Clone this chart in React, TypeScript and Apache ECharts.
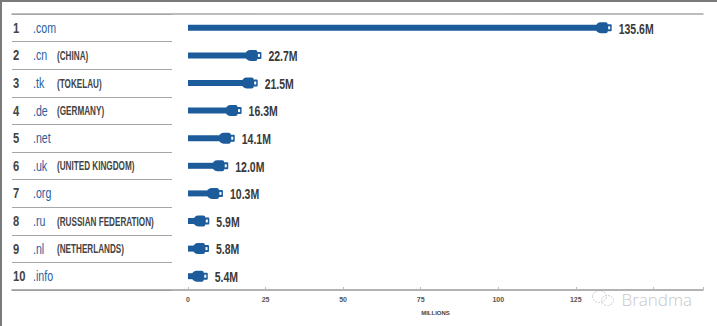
import React, { useEffect, useRef } from "react";
import * as echarts from "echarts";

const ranks = ["1", "2", "3", "4", "5", "6", "7", "8", "9", "10"];
const tlds = [".com", ".cn", ".tk", ".de", ".net", ".uk", ".org", ".ru", ".nl", ".info"];
const countries = ["", "CHINA", "TOKELAU", "GERMANY", "", "UNITED KINGDOM", "", "RUSSIAN FEDERATION", "NETHERLANDS", ""];
const valuesM = [135.6, 22.7, 21.5, 16.3, 14.1, 12.0, 10.3, 5.9, 5.8, 5.4];
const tickMax = 125;

const BLUE = "#1d5c9b";
const FONT = '"Liberation Sans", Arial, sans-serif';

export default function App() {
  const ref = useRef<HTMLDivElement>(null);
  useEffect(() => {
    const chart = echarts.init(ref.current!, null, { renderer: "svg" });
    const grid = { top: 14, bottom: 36 };
    chart.setOption({
      animation: false,
      backgroundColor: "#ffffff",
      grid: [
        { left: 188, right: 14, ...grid },
        { left: 12, width: 160, ...grid },
        { left: 12, right: 14, ...grid },
      ],
      xAxis: [
        {
          gridIndex: 0,
          type: "value",
          min: 0,
          max: 166,
          interval: 25,
          axisLine: { show: false },
          axisTick: { show: true, inside: true, length: 3, lineStyle: { color: "#bbbbbb" } },
          splitLine: { show: false },
          axisLabel: {
            margin: 6,
            color: "#555555",
            fontFamily: FONT,
            fontWeight: "bold",
            fontSize: 7,
            formatter: (v: number) => (v <= tickMax ? String(v) : ""),
          },
          name: "MILLIONS",
          nameLocation: "middle",
          nameGap: 20,
          nameTextStyle: {
            color: "#444444",
            fontFamily: FONT,
            fontWeight: "bold",
            fontSize: 6,
            padding: [0, 20, 0, 0],
          },
        },
        { gridIndex: 1, type: "value", min: 0, max: 1, show: false },
        {
          gridIndex: 2,
          type: "value",
          position: "bottom",
          axisLine: { show: true, lineStyle: { color: "#9a9a9a", width: 1.5 } },
          axisTick: { show: false },
          axisLabel: { show: false },
          splitLine: { show: false },
        },
        {
          gridIndex: 2,
          type: "value",
          position: "top",
          axisLine: { show: true, lineStyle: { color: "#a8a8a8", width: 1.5 } },
          axisTick: { show: false },
          axisLabel: { show: false },
          splitLine: { show: false },
        },
      ],
      yAxis: [
        { gridIndex: 0, type: "category", inverse: true, data: tlds, show: false },
        {
          gridIndex: 1,
          type: "category",
          inverse: true,
          data: tlds,
          axisLine: { show: false },
          axisTick: { show: false },
          axisLabel: { show: false },
          splitLine: { show: true, interval: 0, lineStyle: { color: "#a6a6a6", width: 1 } },
        },
        { gridIndex: 2, type: "value", show: false },
      ],
      series: [
        {
          type: "custom",
          xAxisIndex: 1,
          yAxisIndex: 1,
          encode: { x: 0, y: 1 },
          data: tlds.map((t, i) => [0, i]),
          renderItem: (params: any, api: any) => {
            const i = params.dataIndex;
            const p = api.coord([0, api.value(1)]);
            const cy = p[1] + 0.5;
            const x0 = p[0];
            const children: any[] = [
              {
                type: "text",
                x: x0 + 1,
                y: cy,
                scaleX: 0.8,
                style: { text: ranks[i], fill: "#444444", font: `bold 14px ${FONT}`, verticalAlign: "middle", align: "left" },
              },
              {
                type: "text",
                x: x0 + 21,
                y: cy,
                scaleX: 0.76,
                style: { text: tlds[i], fill: "#2a5d9c", font: `14px ${FONT}`, verticalAlign: "middle", align: "left" },
              },
            ];
            if (countries[i]) {
              children.push({
                type: "text",
                x: x0 + 45,
                y: cy,
                scaleX: 0.68,
                style: { text: `(${countries[i]})`, fill: "#444444", font: `bold 12px ${FONT}`, verticalAlign: "middle", align: "left" },
              });
            }
            return { type: "group", children };
          },
        },
        {
          type: "custom",
          xAxisIndex: 0,
          yAxisIndex: 0,
          encode: { x: 0, y: 1 },
          data: valuesM.map((v, i) => [v, i]),
          renderItem: (params: any, api: any) => {
            const v = api.value(0) as number;
            const idx = api.value(1) as number;
            const end = api.coord([v, idx]);
            const start = api.coord([0, idx]);
            const cy = end[1];
            const xe = end[0] + 3;
            const headW = 12;
            const tipW = 4;
            const headX = xe - tipW - headW;
            const children: any[] = [];
            const barEnd = headX + 5;
            if (barEnd > start[0]) {
              children.push({
                type: "rect",
                shape: { x: start[0], y: cy - 3, width: barEnd - start[0], height: 6 },
                style: { fill: BLUE },
              });
            }
            children.push({
              type: "rect",
              shape: { x: Math.max(headX, start[0] + 2), y: cy - 5.5, width: headW, height: 11, r: [5, 2, 2, 5] },
              style: { fill: BLUE },
            });
            children.push({
              type: "rect",
              shape: { x: xe - tipW - 1, y: cy - 3.5, width: tipW + 1, height: 7, r: 1 },
              style: { fill: BLUE },
            });
            children.push({
              type: "rect",
              shape: { x: xe - tipW + 0.5, y: cy - 1.5, width: 2, height: 3 },
              style: { fill: "#ffffff" },
            });
            children.push({
              type: "text",
              x: xe + 7,
              y: cy + 0.5,
              scaleX: 0.7,
              style: {
                text: v.toFixed(1) + "M",
                fill: "#3a3a3a",
                font: `bold 15px ${FONT}`,
                verticalAlign: "middle",
                align: "left",
              },
            });
            return { type: "group", children };
          },
        },
      ],
      graphic: [
        { type: "line", shape: { x1: 0, y1: 1, x2: 717, y2: 1 }, style: { stroke: "#7a7a7a", lineWidth: 2 } },
        { type: "line", shape: { x1: 1, y1: 0, x2: 1, y2: 326 }, style: { stroke: "#7a7a7a", lineWidth: 2 } },
        {
          type: "group",
          left: 590,
          top: 288,
          children: [
            { type: "ellipse", shape: { cx: 8, cy: 7, rx: 7, ry: 6 }, style: { fill: "none", stroke: "#d0d0d0", lineWidth: 1, lineDash: [2, 1] } },
            { type: "ellipse", shape: { cx: 16, cy: 11, rx: 6, ry: 5 }, style: { fill: "none", stroke: "#d0d0d0", lineWidth: 1, lineDash: [2, 1] } },
            {
              type: "text",
              x: 30,
              y: 1,
              style: { text: "Brandma", fill: "#c8c8c8", font: '300 17px "Open Sans", sans-serif' },
            },
          ],
        },
      ],
    });
    return () => chart.dispose();
  }, []);
  return (
    <div
      ref={ref}
      style={{ position: "fixed", left: 0, top: 0, width: 717, height: 326 }}
    />
  );
}
